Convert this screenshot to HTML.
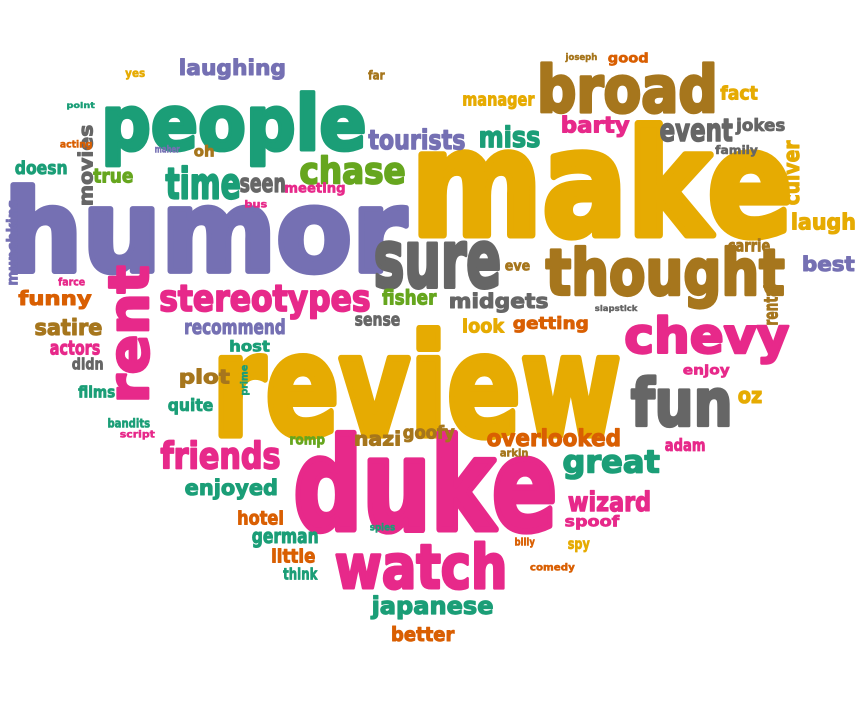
<!DOCTYPE html>
<html><head><meta charset="utf-8">
<style>
html,body{margin:0;padding:0;background:#fff;}
svg{display:block;}
text{font-family:"DejaVu Sans","Liberation Sans",sans-serif;font-weight:bold;}
</style></head>
<body>
<svg id="cloud" width="864" height="720" viewBox="0 0 864 720" xmlns="http://www.w3.org/2000/svg"></svg>
<script>
const words = ["humor","make","review","duke","people","broad","thought","sure","chevy","fun","watch","rent","stereotypes","chase","time","tourists","miss","laughing","movies","friends","great","overlooked","japanese","better","wizard","spoof","enjoyed","plot","quite","recommend","satire","funny","actors","didn","films","bandits","script","host","prime","nazi","goofy","romp","hotel","german","little","think","spies","billy","spy","comedy","adam","arkin","oz","enjoy","look","getting","midgets","fisher","sense","slapstick","eve","carrie","laugh","best","rental","culver","jokes","event","family","fact","good","joseph","manager","barty","far","yes","point","acting","doesn","true","maher","oh","seen","meeting","bus","munchkins","farce"];
const colorKeys = ["P","Y","Y","K","T","B","B","G","K","G","K","K","K","L","T","P","T","P","G","K","T","O","T","O","K","K","T","B","T","P","B","O","K","G","T","T","K","T","T","B","B","L","O","T","O","T","T","O","Y","O","K","B","Y","K","Y","O","G","L","G","G","B","B","Y","P","B","Y","G","G","G","Y","O","B","Y","K","B","Y","T","O","T","L","P","B","G","K","K","P","K"];
const vertical = ["rent","movies","prime","rental","culver","munchkins"];
const boxes = [[10,182,400,93],[418,120,372,120],[218,325,402,115],[295,430,260,105],[105,90,260,77],[540,62,175,53],[545,245,240,65],[375,240,125,50],[625,315,165,50],[630,375,100,53],[335,540,170,50],[108,265,42,135],[160,285,210,35],[300,155,105,30],[165,165,75,35],[368,128,97,22],[480,125,60,23],[180,58,105,22],[77,125,16,80],[160,440,120,30],[563,450,97,30],[487,428,133,19],[370,595,123,25],[392,626,63,16],[568,490,82,22],[565,515,55,15],[185,478,92,22],[180,368,50,20],[168,398,45,17],[185,318,100,17],[35,318,67,18],[18,290,74,20],[50,340,50,15],[72,357,31,13],[78,385,37,13],[108,418,42,10],[120,430,35,10],[230,340,40,12],[240,365,10,30],[355,430,45,16],[403,425,52,18],[290,436,35,12],[238,510,45,15],[252,531,66,17],[272,548,43,15],[283,567,35,13],[370,523,25,10],[515,537,20,11],[568,540,22,13],[530,563,45,10],[665,438,40,14],[500,448,28,9],[738,390,24,14],[683,364,47,14],[463,318,42,15],[513,316,75,17],[450,292,98,21],[382,288,55,17],[355,315,45,11],[595,305,43,8],[505,262,25,9],[728,238,42,14],[792,212,63,23],[803,255,52,17],[763,285,15,40],[782,140,18,65],[735,118,50,17],[660,118,73,24],[715,145,43,12],[720,85,38,15],[608,52,40,14],[565,53,32,9],[463,95,72,15],[562,115,68,23],[368,70,17,10],[125,70,20,10],[67,102,28,8],[60,140,32,10],[15,160,52,15],[93,168,40,15],[155,145,25,8],[194,145,20,12],[240,177,45,16],[285,182,60,14],[245,200,22,8],[6,200,12,85],[58,277,27,9]];
const palette = {P:"#7570b3",Y:"#e6ab02",K:"#e7298a",T:"#1b9e77",B:"#a6761d",G:"#666666",O:"#d95f02",L:"#66a61e"};

const svg = document.getElementById('cloud');
const cv = document.createElement('canvas').getContext('2d');
cv.font = 'bold 100px "DejaVu Sans","Liberation Sans",sans-serif';
const SW = 5;
words.forEach((w,i)=>{
  const [x,y,bw,bh] = boxes[i];
  const m = cv.measureText(w);
  const left = m.actualBoundingBoxLeft + SW/2, right = m.actualBoundingBoxRight + SW/2;
  const asc = m.actualBoundingBoxAscent + SW/2, desc = m.actualBoundingBoxDescent + SW/2;
  const inkW = left + right, inkH = asc + desc;
  const t = document.createElementNS('http://www.w3.org/2000/svg','text');
  t.textContent = w;
  t.setAttribute('font-size','100');
  t.setAttribute('fill', palette[colorKeys[i]]);
  t.setAttribute('stroke', palette[colorKeys[i]]);
  t.setAttribute('stroke-width', SW);
  t.setAttribute('stroke-linejoin', 'round');
  
  
  let tr;
  if (vertical.includes(w)) {
    const sx = bh / inkW, sy = bw / inkH;
    const tx = x + asc*sy, ty = y + right*sx;
    tr = `translate(${tx},${ty}) rotate(-90) scale(${sx},${sy})`;
  } else {
    const sx = bw / inkW, sy = bh / inkH;
    const tx = x + left*sx, ty = y + asc*sy;
    tr = `translate(${tx},${ty}) scale(${sx},${sy})`;
  }
  t.setAttribute('transform', tr);
  svg.appendChild(t);
});
</script>
</body></html>
